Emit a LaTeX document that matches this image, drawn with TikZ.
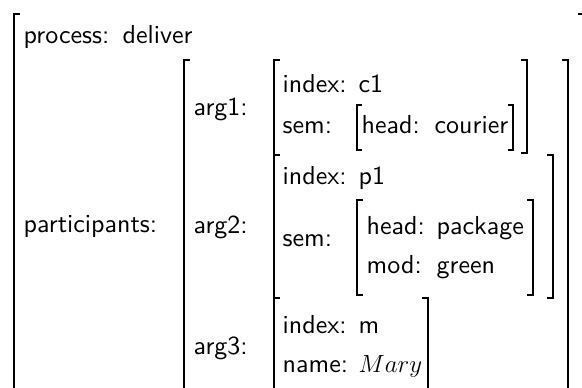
\documentclass[tikz,border=0pt]{standalone}
\usepackage{fontspec}
\newfontfamily\avmfont{lmsans10-regular.otf}
\begin{document}
\begin{tikzpicture}[x=1pt, y=-1pt, line width=1.4pt,
  every node/.style={anchor=base west, inner sep=0pt, font=\fontsize{26}{30}\selectfont\avmfont}]
\useasboundingbox (0,0) rectangle (582,388);
\clip (0,0) rectangle (582,388);
% outer matrix
\draw (20,14) -- (14,14) -- (14,400);
\draw (578,14) -- (584,14) -- (584,400);
\node (proc) at (23,43) {process:};
\node (procval) at (122,43) {deliver};
\node (part) at (23,232) {participants:};
% participants
\draw (190,60) -- (184,60) -- (184,400);
\draw (562,60) -- (568,60) -- (568,400);
\node (arg1) at (193,115) {arg1:};
\node (arg2) at (193,233) {arg2:};
\node (arg3) at (193,354) {arg3:};
% arg1
\draw (280,60) -- (274,60) -- (274,155) -- (280,155);
\draw (521,60) -- (527,60) -- (527,153) -- (521,153);
\node (idx1) at (282,92) {index:};
\node (idx1val) at (358,92) {c1};
\node (sem1) at (282,133) {sem:};
\draw (362,105) -- (357,105) -- (357,150) -- (362,150);
\draw (508,105) -- (513,105) -- (513,150) -- (508,150);
\node (head1) at (361,133) {head:};
\node (head1val) at (434,133) {courier};
% arg2
\draw (280,155) -- (274,155) -- (274,298) -- (280,298);
\draw (547,155) -- (553,155) -- (553,298) -- (547,298);
\node (idx2) at (282,184) {index:};
\node (idx2val) at (358,184) {p1};
\node (sem2) at (282,246) {sem:};
\draw (363,200) -- (357,200) -- (357,295) -- (363,295);
\draw (527,200) -- (533,200) -- (533,295) -- (527,295);
\node (head2) at (366,234) {head:};
\node (head2val) at (436,234) {package};
\node (mod2) at (366,273) {mod:};
\node (mod2val) at (436,273) {green};
% arg3
\draw (280,298) -- (274,298) -- (274,400);
\draw (422,298) -- (428,298) -- (428,400);
\node (idx3) at (282,333) {index:};
\node (idx3val) at (358,333) {m};
\node (name3) at (282,372) {name:};
\node (name3val) at (358,372) {$Mary$};
\end{tikzpicture}
\end{document}
